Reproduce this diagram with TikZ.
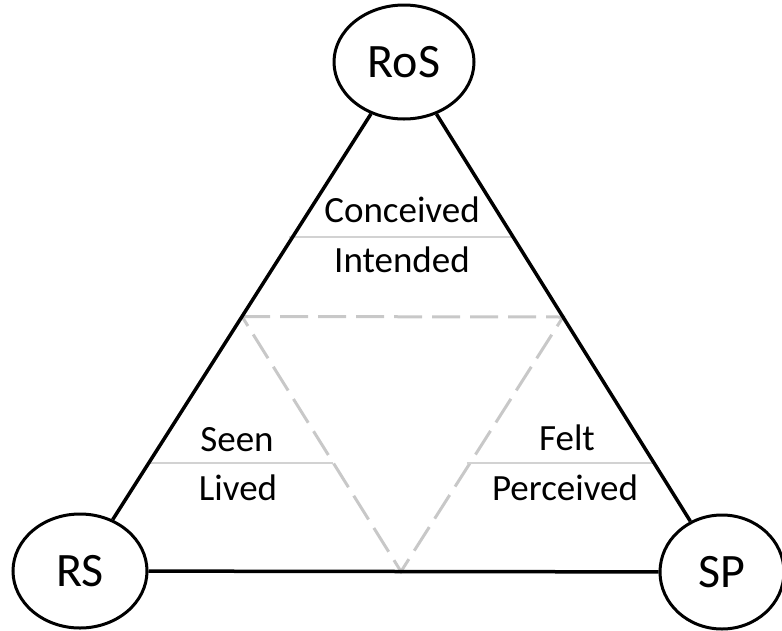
\documentclass[tikz,border=0pt]{standalone}
\usepackage{fontspec}
\setmainfont{Carlito}
\usetikzlibrary{shapes.geometric,calc}
\definecolor{dashgrey}{HTML}{C8C8C8}
\definecolor{rulegrey}{HTML}{D2D2D2}
\tikzset{
  corner/.style={ellipse, draw=black, line width=3pt, fill=white, inner sep=0pt,
    font=\fontsize{48}{48}\selectfont},
  side/.style={black, line width=3.5pt},
  medial/.style={dashgrey, line width=3pt, dash pattern=on 28pt off 10pt},
  divider/.style={rulegrey, line width=1.2pt},
  lbl/.style={anchor=base, inner sep=0pt, font=\fontsize{37}{37}\selectfont}
}
\begin{document}
\begin{tikzpicture}[x=1pt, y=-1pt]
\useasboundingbox (0,0) rectangle (782,630);

% corner circles
\node[corner, minimum width=140pt, minimum height=114pt] (ros) at (404,62) {RoS};
\node[corner, minimum width=134pt, minimum height=114pt] (rs) at (80,571) {RS};
\node[corner, minimum width=124pt, minimum height=114pt] (sp) at (722,572) {SP};

% inner dashed triangle through the side midpoints
\coordinate (mleft)  at ($(ros.center)!0.5!(rs.center)$);
\coordinate (mright) at ($(ros.center)!0.5!(sp.center)$);
\coordinate (mbot)   at ($(rs.center)!0.5!(sp.center)$);
\draw[medial] (mleft) -- (mright) -- (mbot) -- cycle;

% dividers between the paired words
\draw[divider] (289,237) -- (512,237);
\draw[divider] (147,463) -- (333,463);
\draw[divider] (467,463) -- (654,463);

% outer triangle
\draw[side] (ros) -- (rs);
\draw[side] (ros) -- (sp);
\draw[side] (rs) -- (sp);

% labels
\node[lbl] (conceived) at (402,222) {Conceived};
\node[lbl] (intended)  at (402,272) {Intended};
\node[lbl] (seen)      at (237,451) {Seen};
\node[lbl] (lived)     at (238,500) {Lived};
\node[lbl] (felt)      at (567,450) {Felt};
\node[lbl] (perceived) at (565,500) {Perceived};
\end{tikzpicture}
\end{document}
